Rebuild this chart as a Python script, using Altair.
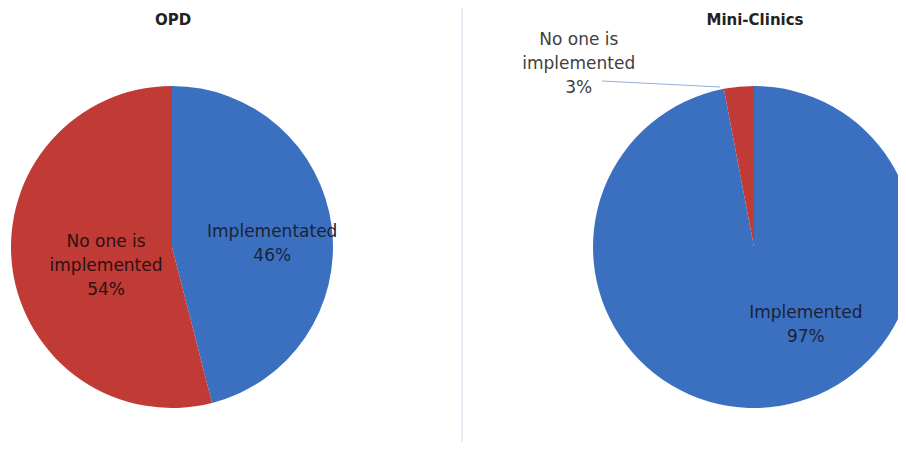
import altair as alt
import pandas as pd

panels = ["OPD", "OPD", "Mini-Clinics", "Mini-Clinics"]
categories = ["Implementated", "No one is implemented", "Implemented", "No one is implemented"]
values = [46, 54, 97, 3]
labels = ["Implementated\n46%", "No one is\nimplemented\n54%", "Implemented\n97%", "No one is\nimplemented\n3%"]
orders = [1, 2, 1, 2]
colors = ["#3a70bf", "#c03a36", "#3a70bf", "#c03a36"]
titles = ["OPD", "Mini-Clinics"]

df = pd.DataFrame({"panel": panels, "category": categories, "value": values,
                   "label": labels, "ord": orders, "color": colors})

R = 161
CY = 239
centers = {"OPD": 164, "Mini-Clinics": 746}

base = alt.Chart(df)
layers = []

for p in titles:
    layers.append(
        base.transform_filter(alt.datum.panel == p)
        .mark_arc(radius=R, stroke=None)
        .encode(
            theta=alt.Theta("value:Q", stack=True),
            order=alt.Order("ord:Q"),
            color=alt.Color("color:N", scale=None),
            x=alt.value(centers[p]), y=alt.value(CY),
        )
    )

# (panel, category, radius, dx, dy, colour)
label_specs = [
    ("OPD", "Implementated", 100, 1, -2.5, "#1a2238"),
    ("OPD", "No one is implemented", 69, 2.5, -13.5, "#2a1212"),
    ("Mini-Clinics", "Implemented", 94, 43, -27.5, "#1a2238"),
    ("Mini-Clinics", "No one is implemented", 183, -158, -25, "#404040"),
]
for p, cat, r, dx, dy, col in label_specs:
    layers.append(
        base.transform_filter(alt.datum.panel == p)
        .mark_text(radius=r, dx=dx, dy=dy, font="DejaVu Sans", fontSize=17,
                   lineBreak="\n", lineHeight=24, align="center", baseline="middle",
                   color=col)
        .encode(
            theta=alt.Theta("value:Q", stack=True),
            order=alt.Order("ord:Q"),
            text=alt.condition(alt.datum.category == cat, "label:N", alt.value("")),
            x=alt.value(centers[p]), y=alt.value(CY),
        )
    )

title_df = pd.DataFrame({"t": titles})
for p in titles:
    layers.append(
        alt.Chart(title_df).transform_filter(alt.datum.t == p)
        .mark_text(font="DejaVu Sans", fontSize=15, fontWeight="bold", color="#222222",
                   align="center", baseline="middle")
        .encode(text="t:N", x=alt.value(centers[p] + 1), y=alt.value(12))
    )

# divider and leader line
layers.append(
    alt.Chart(title_df.head(1)).mark_rule(color="#dfe4f2", strokeWidth=1.5)
    .encode(x=alt.value(454), y=alt.value(0), y2=alt.value(442))
)
layers.append(
    alt.Chart(title_df.head(1)).mark_rule(color="#8fb0dc", strokeWidth=1.2)
    .encode(x=alt.value(594), x2=alt.value(712), y=alt.value(73), y2=alt.value(79))
)

chart = alt.layer(*layers).resolve_scale(theta="independent").properties(
    width=890, height=434, padding=0, autosize=alt.AutoSizeParams(type="none")
).configure_view(stroke=None)

chart.save("out.html", embed_options={"renderer": "svg", "actions": False})
